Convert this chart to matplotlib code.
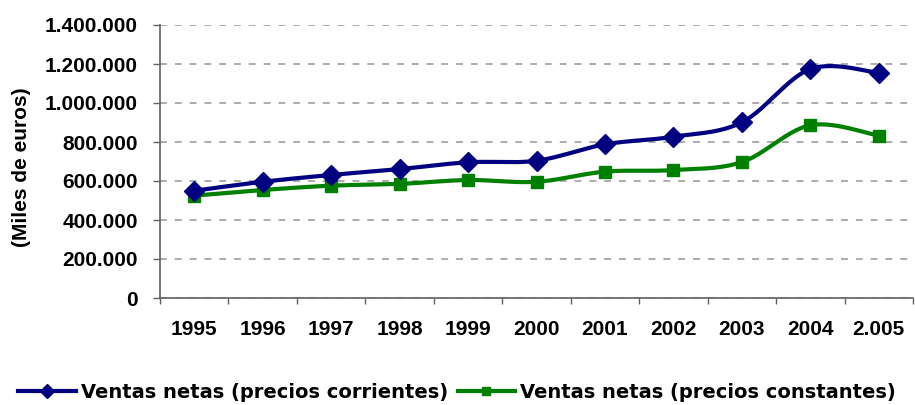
import numpy as np
import matplotlib
matplotlib.use("Agg")
import matplotlib.pyplot as plt
from matplotlib.ticker import FuncFormatter, FixedLocator
from matplotlib.lines import Line2D

years = ["1995", "1996", "1997", "1998", "1999", "2000", "2001", "2002", "2003", "2004", "2.005"]
corrientes = [550000, 596000, 631000, 661000, 696000, 704000, 788000, 827000, 901000, 1174000, 1155000]
constantes = [525000, 554000, 576000, 585000, 605000, 596000, 648000, 656000, 697000, 886000, 832000]
label_corr = "Ventas netas (precios corrientes)"
label_const = "Ventas netas (precios constantes)"
ylabel = "(Miles de euros)"

plt.rcParams['font.family'] = ['Liberation Sans', 'DejaVu Sans']
plt.rcParams['font.weight'] = 'bold'


def smooth(x, y, n=30):
    # Bezier smoothing like spreadsheet "smoothed line"
    x = np.asarray(x, float)
    y = np.asarray(y, float)
    P = np.column_stack([x, y])
    out = []
    for i in range(len(P) - 1):
        p0 = P[i - 1] if i > 0 else P[i]
        p1 = P[i]
        p2 = P[i + 1]
        p3 = P[i + 2] if i + 2 < len(P) else P[i + 1]
        c1 = p1 + (p2 - p0) / 6.0
        c2 = p2 - (p3 - p1) / 6.0
        t = np.linspace(0, 1, n)[:, None]
        seg = ((1 - t) ** 3) * p1 + 3 * ((1 - t) ** 2) * t * c1 + 3 * (1 - t) * t ** 2 * c2 + t ** 3 * p2
        out.append(seg if i == 0 else seg[1:])
    s = np.vstack(out)
    return s[:, 0], s[:, 1]


fig = plt.figure(figsize=(9.15, 4.05), dpi=100)
ax = fig.add_axes([160 / 915, 1 - 298 / 405, 753 / 915, 273 / 405])

x = np.arange(len(years))
blue = "#000080"
green = "#008000"

sx, sy = smooth(x, constantes)
ax.plot(sx, sy, color=green, lw=3.0, solid_capstyle='round', zorder=3)
ax.plot(x, constantes, ls='none', marker='s', ms=8.6, color=green, zorder=4)
sx, sy = smooth(x, corrientes)
ax.plot(sx, sy, color=blue, lw=3.0, solid_capstyle='round', zorder=5)
ax.plot(x, corrientes, ls='none', marker='D', ms=9.8, color=blue, zorder=6)

ax.set_xlim(-0.5, len(years) - 0.5)
ax.set_ylim(0, 1400000)
ax.set_yticks(np.arange(0, 1400001, 200000))
ax.yaxis.set_major_formatter(FuncFormatter(lambda v, p: f"{int(v):,}".replace(",", ".")))
ax.grid(axis='y', color='#a6a6a6', ls=(0, (3.8, 4.4)), lw=1.3)
ax.set_axisbelow(True)

ax.xaxis.set_major_locator(FixedLocator(np.arange(-0.5, len(years) - 0.4, 1.0)))
ax.xaxis.set_major_formatter(FuncFormatter(lambda v, p: ""))
ax.xaxis.set_minor_locator(FixedLocator(x))
ax.set_xticks(x, years, minor=True)
ax.tick_params(axis='x', which='major', length=4, width=1, color='#606060', direction='out')
ax.tick_params(axis='x', which='minor', length=0, pad=16, labelsize=15)
ax.tick_params(axis='y', which='major', length=5, width=1, color='#606060', direction='out', pad=11, labelsize=15)
for lab in ax.get_xticklabels(minor=True) + ax.get_yticklabels():
    lab.set_fontweight('bold')

for s in ['top', 'right']:
    ax.spines[s].set_visible(False)
for s in ['left', 'bottom']:
    ax.spines[s].set_color('#606060')
    ax.spines[s].set_linewidth(1.2)

fig.text(22 / 915, 1 - 167 / 405, ylabel, rotation=90, ha='center', va='center',
         fontsize=15, fontweight='bold')

handles = [
    Line2D([], [], color=blue, lw=3, marker='D', ms=7),
    Line2D([], [], color=green, lw=3, marker='s', ms=6),
]
fig.legend(handles, [label_corr, label_const], loc='center', ncol=2, frameon=False,
           bbox_to_anchor=(457 / 915, 1 - 392 / 405),
           prop={'family': ['DejaVu Sans'], 'weight': 'bold', 'size': 14},
           handlelength=2.95, handletextpad=0.25, columnspacing=0.5)

fig.savefig("out.png", dpi=100)
